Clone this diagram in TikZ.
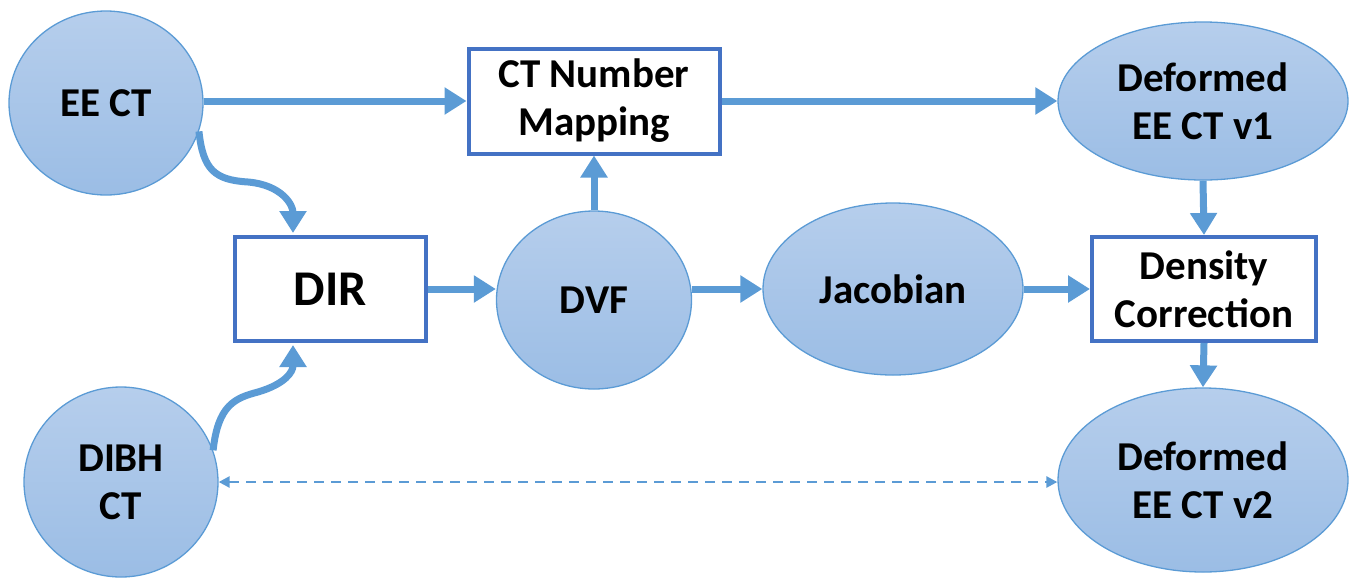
\documentclass[tikz,border=0pt]{standalone}
\usepackage{fontspec}
\setmainfont{Carlito}
\usetikzlibrary{arrows.meta,shapes.geometric}
\definecolor{arrowblue}{RGB}{91,155,213}
\definecolor{boxblue}{RGB}{68,114,196}
\definecolor{filltop}{RGB}{182,206,236}
\definecolor{fillbot}{RGB}{155,189,229}
\tikzset{
  blob/.style={ellipse, draw=arrowblue, line width=1.3pt, top color=filltop, bottom color=fillbot,
    inner sep=0pt, align=center, font=\fontsize{41}{48}\selectfont\bfseries},
  procbox/.style={rectangle, draw=boxblue, line width=4pt, fill=white, inner sep=0pt,
    align=center, font=\fontsize{41}{48}\selectfont\bfseries},
  flow/.style={draw=arrowblue, line width=7pt, -{Triangle[length=22pt,width=26pt]}},
  dashflow/.style={draw=arrowblue, line width=2.5pt, dash pattern=on 10pt off 7pt,
    {Triangle[length=11pt,width=11pt]}-{Triangle[length=11pt,width=11pt]}},
}
\begin{document}
\begin{tikzpicture}[x=1pt,y=-1pt]
\useasboundingbox (0,0) rectangle (1357,579);
\node[blob, minimum width=194pt, minimum height=184pt] (ee) at (106,103) {EE CT};
\node[blob, minimum width=194pt, minimum height=190pt] (dibh) at (121,482) {DIBH\\CT};
\node[procbox, minimum width=251pt, minimum height=105pt] (map) at (594,101) {CT Number\\Mapping};
\node[procbox, minimum width=191pt, minimum height=104pt, font=\fontsize{50}{58}\selectfont\bfseries] (dir) at (330,289) {DIR};
\node[blob, minimum width=195pt, minimum height=178pt] (dvf) at (594,300) {DVF};
\node[blob, minimum width=260pt, minimum height=172pt] (jac) at (893,289) {Jacobian};
\node[procbox, minimum width=224pt, minimum height=104pt] (dens) at (1204,289) {Density\\Correction};
\node[blob, minimum width=290pt, minimum height=158pt] (v1) at (1203,101) {Deformed\\EE CT v1};
\node[blob, minimum width=290pt, minimum height=184pt] (v2) at (1203,480) {Deformed\\EE CT v2};

\draw[flow] (ee.east |- 0,101) -- (map.west);
\draw[flow] (map.east) -- (v1.west |- map.east);
\draw[flow] (dvf.north) -- (map.south);
\draw[flow] (dir.east) -- (dvf.west |- dir.east);
\draw[flow] (dvf.east |- 0,289) -- (jac.west);
\draw[flow] (jac.east) -- (dens.west);
\draw[flow] (v1.south) -- (dens.north);
\draw[flow] (dens.south) -- (v2.north);
\draw[flow] (ee.-17) .. controls (203,170) and (215,180) .. (248,182)
   .. controls (282,185) and (293,205) .. ([xshift=-37pt,yshift=2pt]dir.north);
\draw[flow] (dibh.19) .. controls (218,405) and (235,398) .. (258,392)
   .. controls (285,384) and (293,372) .. ([xshift=-37pt,yshift=-2pt]dir.south);
\draw[dashflow] (dibh.east |- 0,482) -- (v2.west |- 0,482);
\end{tikzpicture}
\end{document}
